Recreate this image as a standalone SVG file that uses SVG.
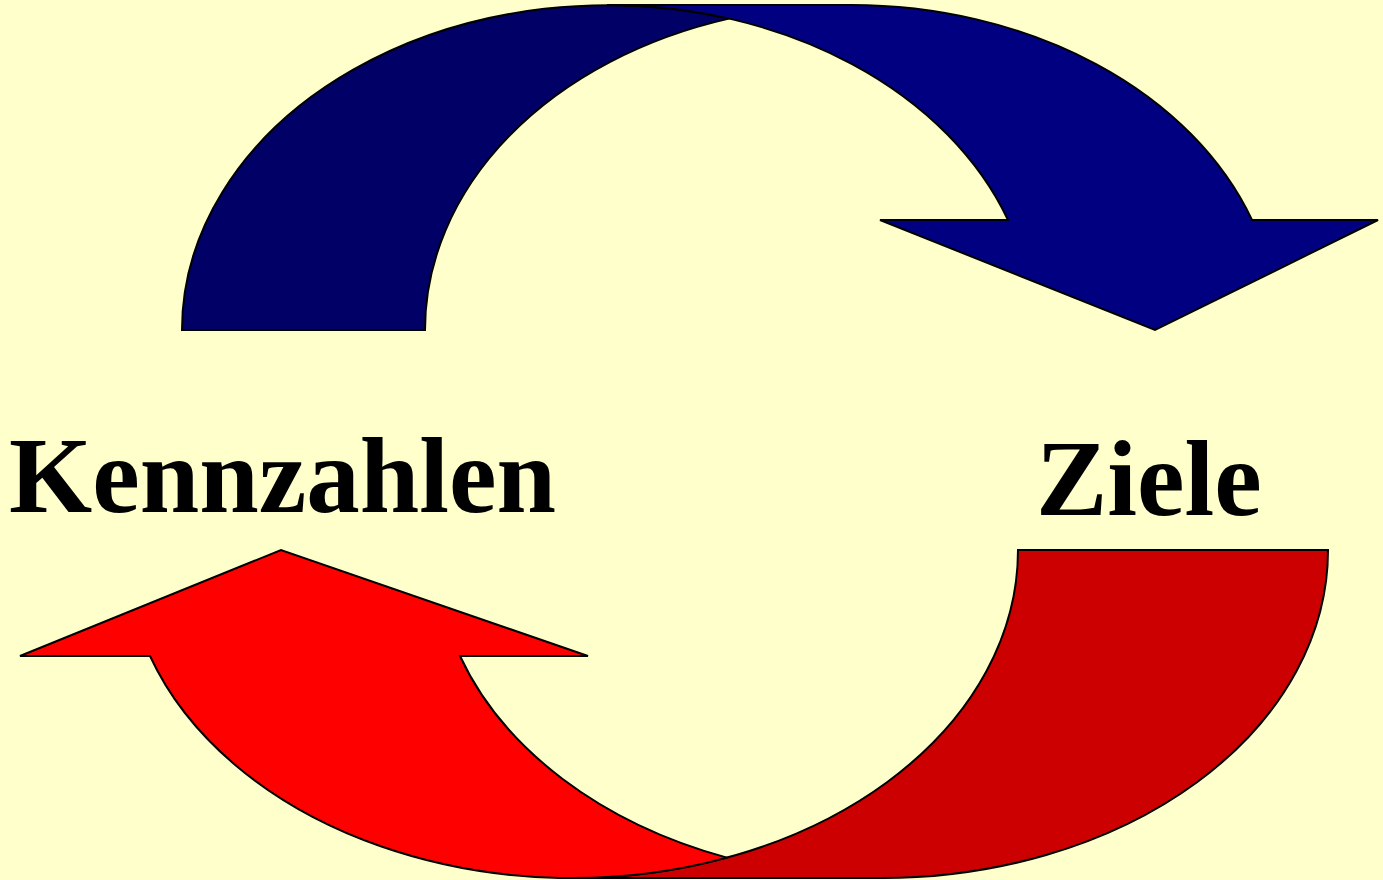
<svg xmlns="http://www.w3.org/2000/svg" width="1383" height="880" viewBox="0 0 1383 880">
  <style>
    .edge { stroke: #000000; stroke-width: 2; stroke-linejoin: miter; }
    .lbl { font-family: "Liberation Serif", "Times New Roman", serif; font-weight: bold; font-size: 107px; fill: #000000; }
  </style>
  <rect x="0" y="0" width="1383" height="880" fill="#FFFFCC"/>
  <g id="connectors">
    <g id="arrow-blue">
      <path class="edge" fill="#000066" d="M182,330 A426,325 0 0 1 729,18.6 A426,325 0 0 0 425,330 Z"/>
      <path class="edge" fill="#000080" d="M607,5 L851,5 A426,325 0 0 1 1252,220 L1378,220 L1155,330 L880,220 L1008,220 A426,325 0 0 0 607,5 Z"/>
    </g>
    <g id="arrow-red">
      <path class="edge" fill="#CC0000" d="M1018,550 L1328,550 A446,328 0 0 1 882,878 L572,878 A446,328 0 0 0 1018,550 Z"/>
      <path class="edge" fill="#FF0000" d="M150,656 L20,656 L281,550 L588,656 L460,656 A446,328 0 0 0 727,857.6 A446,328 0 0 1 150,656 Z"/>
    </g>
  </g>
  <g id="node-kennzahlen">
    <text class="lbl" x="9" y="512">Kennzahlen</text>
  </g>
  <g id="node-ziele">
    <text class="lbl" x="1036" y="515">Ziele</text>
  </g>
</svg>
